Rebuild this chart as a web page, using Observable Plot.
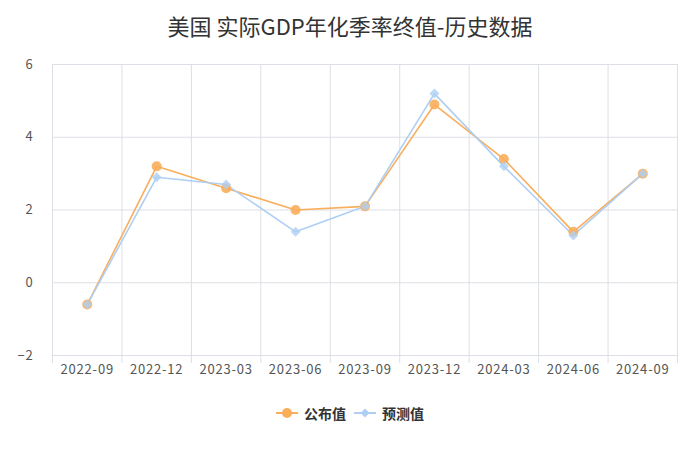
<!DOCTYPE html>
<html><head><meta charset="utf-8">
<script src="https://cdn.jsdelivr.net/npm/d3@7"></script>
<script src="https://cdn.jsdelivr.net/npm/@observablehq/plot@0.6"></script>
<style>
body{margin:0;background:#fff;font-family:"Noto Sans CJK SC",sans-serif;}
#title{height:50px;line-height:50px;text-align:center;font-size:22px;color:#333;}
#legend{height:36px;display:flex;justify-content:center;align-items:center;gap:8px;font-size:14px;font-weight:bold;color:#333;}
.item{display:flex;align-items:center;gap:6px;}
</style></head><body>
<div id="title">美国 实际GDP年化季率终值-历史数据</div>
<div id="chart"></div>
<div id="legend"></div>
<script>
const quarters = ["2022-09","2022-12","2023-03","2023-06","2023-09","2023-12","2024-03","2024-06","2024-09"];
const published = [-0.6, 3.2, 2.6, 2.0, 2.1, 4.9, 3.4, 1.4, 3.0];
const forecast  = [-0.6, 2.9, 2.7, 1.4, 2.1, 5.2, 3.2, 1.3, 3.0];
const yTicks = [-2, 0, 2, 4, 6];
const seriesNames = ["公布值", "预测值"];
const colors = ["#f9ae5c", "#aecff3"];

const pubData = quarters.map((q, i) => ({i, q, v: published[i]}));
const fcData = quarters.map((q, i) => ({i, q, v: forecast[i]}));
const bounds = d3.range(quarters.length + 1).map(k => k - 0.5);
const idx = d3.range(quarters.length);

const chart = Plot.plot({
  width: 700, height: 345,
  marginLeft: 52, marginRight: 23, marginTop: 14, marginBottom: 40,
  style: {fontFamily: '"Noto Sans CJK SC", sans-serif', fontSize: "13px", color: "#555", letterSpacing: "0.8px"},
  x: {type: "linear", domain: [-0.5, quarters.length - 0.5], axis: null},
  y: {domain: [-2, 6], axis: null},
  marks: [
    Plot.gridY(yTicks, {stroke: "#dcdfe5", strokeOpacity: 1}),
    Plot.gridX(bounds, {stroke: "#dcdfe5", strokeOpacity: 1}),
    Plot.axisX(bounds, {tickSize: 8, stroke: "#dcdfe5", strokeOpacity: 1, text: null, label: null}),
    Plot.axisX(idx, {tickSize: 0, tickPadding: 9, tickFormat: i => quarters[i], fill: "#555", label: null}),
    Plot.axisY(yTicks, {tickSize: 0, tickPadding: 19, fill: "#555", label: null}),
    Plot.line(pubData, {x: "i", y: "v", stroke: colors[0], strokeWidth: 1.6}),
    Plot.line(fcData, {x: "i", y: "v", stroke: colors[1], strokeWidth: 1.6}),
    Plot.dot(pubData, {x: "i", y: "v", r: 5, fill: colors[0], fillOpacity: 0.9}),
    Plot.dot(fcData, {x: "i", y: "v", r: 4.5, symbol: d3.symbolDiamond2, fill: colors[1], fillOpacity: 0.8})
  ]
});
document.getElementById("chart").appendChild(chart);

const legend = document.getElementById("legend");
seriesNames.forEach((name, k) => {
  const item = document.createElement("div");
  item.className = "item";
  const sw = d3.create("svg").attr("width", 22).attr("height", 12);
  sw.append("line").attr("x1", 0).attr("x2", 22).attr("y1", 6).attr("y2", 6).attr("stroke", colors[k]).attr("stroke-width", 2);
  if (k === 0) sw.append("circle").attr("cx", 11).attr("cy", 6).attr("r", 5).attr("fill", colors[k]);
  else sw.append("path").attr("transform", "translate(11,6)").attr("d", d3.symbol(d3.symbolDiamond2, 50)()).attr("fill", colors[k]);
  item.appendChild(sw.node());
  const t = document.createElement("span");
  t.textContent = name;
  item.appendChild(t);
  legend.appendChild(item);
});
</script>
</body></html>
